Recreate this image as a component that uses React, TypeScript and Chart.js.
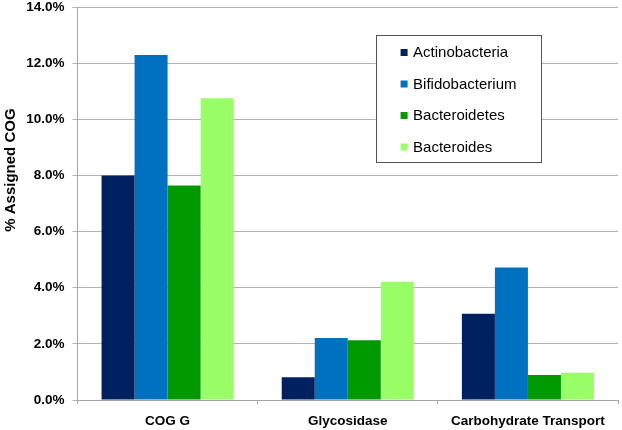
import React, { useEffect, useRef } from "react";
import { Chart, registerables } from "chart.js";

Chart.register(...registerables);

const categories = ["COG G", "Glycosidase", "Carbohydrate Transport"];
const seriesNames = ["Actinobacteria", "Bifidobacterium", "Bacteroidetes", "Bacteroides"];
const actinobacteria = [8.0, 0.81, 3.07];
const bifidobacterium = [12.29, 2.21, 4.72];
const bacteroidetes = [7.64, 2.13, 0.89];
const bacteroides = [10.75, 4.21, 0.97];
const colors = ["#00215F", "#0070C0", "#009900", "#99FF66"];
const yTitle = "% Assigned COG";

const legendPlugin = {
  id: "boxLegend",
  afterDraw(chart: any) {
    const ctx = chart.ctx;
    const ca = chart.chartArea;
    const w = ca.right - ca.left;
    const left = ca.left + w * 0.5515;
    const right = ca.left + w * 0.8575;
    const top = ca.top + 28;
    const bottom = ca.top + 155;
    ctx.save();
    ctx.fillStyle = "#ffffff";
    ctx.fillRect(left, top, right - left, bottom - top);
    ctx.strokeStyle = "#555555";
    ctx.lineWidth = 1;
    ctx.strokeRect(Math.round(left) + 0.5, Math.round(top) + 0.5, Math.round(right - left), Math.round(bottom - top));
    ctx.font = "15px Arial, 'Liberation Sans', sans-serif";
    ctx.textBaseline = "middle";
    ctx.textAlign = "left";
    chart.data.datasets.forEach((ds: any, i: number) => {
      const cy = top + 17.5 + i * 31.5;
      ctx.fillStyle = ds.backgroundColor;
      ctx.fillRect(left + 25, cy - 3.5, 7, 7);
      ctx.fillStyle = "#000000";
      ctx.fillText(ds.label, left + 37.5, cy + 0.5);
    });
    ctx.restore();
  },
};

const yTitlePlugin = {
  id: "yTitle",
  afterDraw(chart: any) {
    const ctx = chart.ctx;
    const ca = chart.chartArea;
    ctx.save();
    ctx.translate(11, ca.top + (ca.bottom - ca.top) * 0.415);
    ctx.rotate(-Math.PI / 2);
    ctx.font = "bold 15px Arial, 'Liberation Sans', sans-serif";
    ctx.fillStyle = "#000000";
    ctx.textAlign = "center";
    ctx.textBaseline = "middle";
    ctx.fillText(yTitle, 0, 0);
    ctx.restore();
  },
};

export default function App() {
  const ref = useRef<HTMLCanvasElement | null>(null);
  useEffect(() => {
    document.body.style.margin = "0";
    const series = [actinobacteria, bifidobacterium, bacteroidetes, bacteroides];
    const chart = new Chart(ref.current as HTMLCanvasElement, {
      type: "bar",
      data: {
        labels: categories,
        datasets: series.map((d, i) => ({
          label: seriesNames[i],
          data: d,
          backgroundColor: colors[i],
          borderWidth: 0,
          barPercentage: 1,
          categoryPercentage: 0.733,
        })),
      },
      options: {
        animation: false,
        responsive: false,
        maintainAspectRatio: false,
        layout: { padding: { top: 7, right: 4, left: 0, bottom: 0 } },
        plugins: {
          legend: { display: false },
          tooltip: { enabled: false },
          title: { display: false },
        },
        scales: {
          x: {
            grid: {
              display: true,
              drawOnChartArea: false,
              tickLength: 4,
              color: "#a6a6a6",
              offset: true,
            },
            border: { color: "#a6a6a6" },
            ticks: {
              color: "#000000",
              font: { family: "Arial, 'Liberation Sans', sans-serif", size: 13.5, weight: "bold" },
              padding: 9,
              maxRotation: 0,
              autoSkip: false,
            },
            afterFit: (s: any) => {
              s.height = 30;
              s.paddingLeft = 0;
              s.paddingRight = 0;
            },
          },
          y: {
            min: 0,
            max: 14,
            ticks: {
              stepSize: 2,
              color: "#000000",
              padding: 8,
              font: { family: "Arial, 'Liberation Sans', sans-serif", size: 13.5, weight: "bold" },
              callback: (v: any) => Number(v).toFixed(1) + "%",
            },
            grid: { color: "#b3b3b3", tickLength: 5 },
            border: { color: "#a6a6a6" },
            afterFit: (s: any) => {
              s.width = 77.5;
              s.paddingTop = 0;
              s.paddingBottom = 0;
            },
          },
        },
      },
      plugins: [legendPlugin, yTitlePlugin],
    });
    return () => chart.destroy();
  }, []);
  return <canvas ref={ref} width={622} height={430} style={{ display: "block" }} />;
}
